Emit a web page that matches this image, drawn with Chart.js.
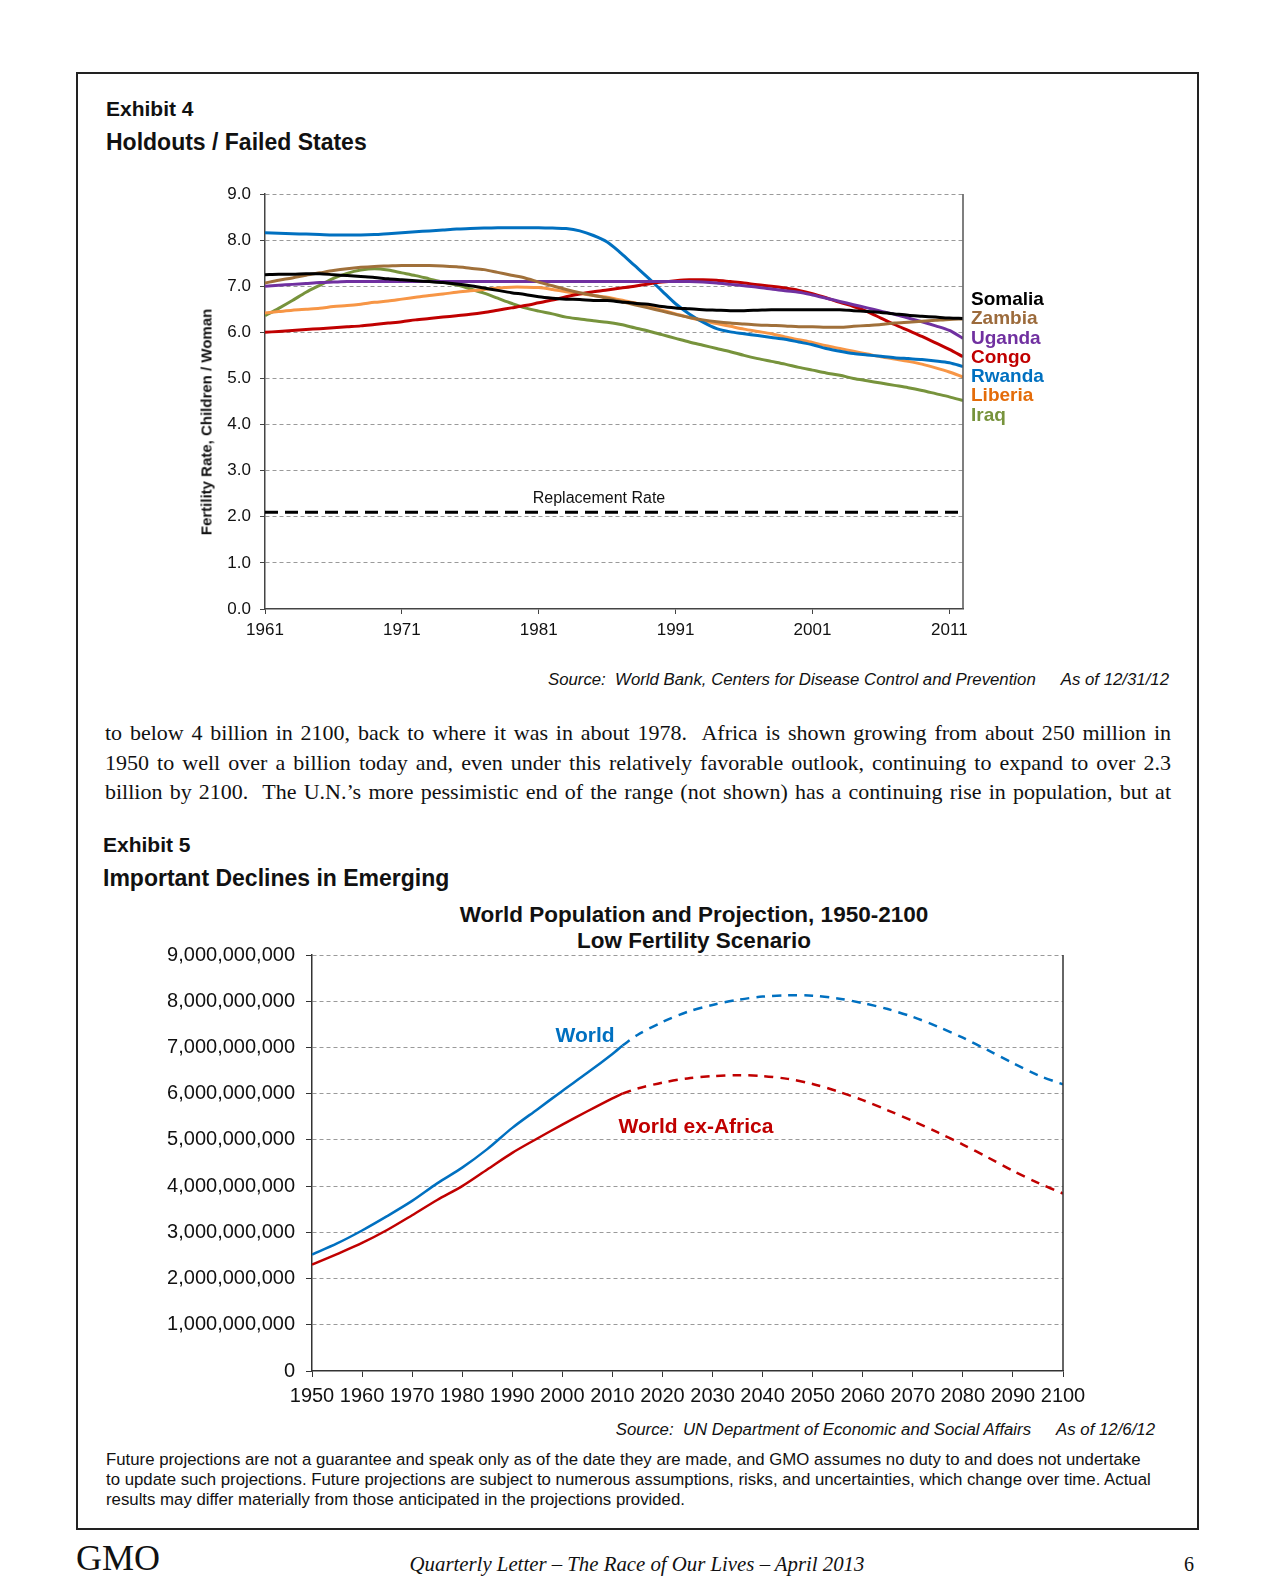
<!DOCTYPE html>
<html>
<head>
<meta charset="utf-8">
<title>GMO Quarterly Letter - Exhibits 4 and 5</title>
<script src="https://cdn.jsdelivr.net/npm/chart.js@4.4.0/dist/chart.umd.min.js"></script>
<style>
  body { margin: 0; width: 1275px; height: 1592px; position: relative; overflow: hidden;
         background: #fff; color: #111; font-family: "Liberation Sans", Arial, sans-serif; }
  .abs { position: absolute; white-space: nowrap; line-height: 1; }
  .frame { position: absolute; left: 76px; top: 72px; width: 1123px; height: 1458px;
           border: 2px solid #222; box-sizing: border-box; }
  .exh { font-weight: bold; font-size: 21px; }
  .head { font-weight: bold; font-size: 23px; }
  .legend div { font-weight: bold; font-size: 19px; line-height: 19.3px; }
  .src { font-style: italic; font-size: 16.8px; }
  .src span + span { margin-left: 25px; }
  .body-line { position: absolute; left: 105px; width: 1066px; font-family: "Liberation Serif", "Times New Roman", serif;
               font-size: 22px; line-height: 29.5px; text-align: justify; text-align-last: justify; white-space: normal; }
  .note { font-size: 16.8px; line-height: 20px; }
  .chartbox { position: absolute; }
  .serif { font-family: "Liberation Serif", "Times New Roman", serif; }
</style>
</head>
<body>
<div class="frame"></div>

<div class="abs exh" style="left:106px; top:98px;">Exhibit 4</div>
<div class="abs head" style="left:106px; top:131px;">Holdouts / Failed States</div>

<div class="chartbox" style="left:190px; top:180px;"><canvas id="fertChart" width="790" height="460"></canvas></div>
<div class="abs" style="left:206px; top:422px; font-weight:bold; font-size:15px; transform:translate(-50%,-50%) rotate(-90deg);">Fertility Rate, Children / Woman</div>
<div class="abs" style="left:599px; top:490px; font-size:16px; transform:translateX(-50%);">Replacement Rate</div>
<div class="abs legend" id="fertLegend" style="left:971px; top:289px;"></div>

<div class="abs src" style="right:106px; top:672px;"><span>Source:&nbsp; World Bank, Centers for Disease Control and Prevention</span><span>As of 12/31/12</span></div>

<div class="body-line" style="top:718px;">to below 4 billion in 2100, back to where it was in about 1978.&nbsp; Africa is shown growing from about 250 million in</div>
<div class="body-line" style="top:747.5px;">1950 to well over a billion today and, even under this relatively favorable outlook, continuing to expand to over 2.3</div>
<div class="body-line" style="top:777px;">billion by 2100.&nbsp; The U.N.’s more pessimistic end of the range (not shown) has a continuing rise in population, but at</div>

<div class="abs exh" style="left:103px; top:834px;">Exhibit 5</div>
<div class="abs head" style="left:103px; top:867px;">Important Declines in Emerging</div>

<div class="abs" style="left:694px; top:904px; font-weight:bold; font-size:22.5px; transform:translateX(-50%);">World Population and Projection, 1950-2100</div>
<div class="abs" style="left:694px; top:930px; font-weight:bold; font-size:22.5px; transform:translateX(-50%);">Low Fertility Scenario</div>

<div class="chartbox" style="left:140px; top:940px;"><canvas id="popChart" width="960" height="480"></canvas></div>
<div class="abs" style="left:585px; top:1024px; font-weight:bold; font-size:21px; color:#0070C0; transform:translateX(-50%);">World</div>
<div class="abs" style="left:696px; top:1115px; font-weight:bold; font-size:21px; color:#C00000; transform:translateX(-50%);">World ex-Africa</div>

<div class="abs src" style="right:120px; top:1422px;"><span>Source:&nbsp; UN Department of Economic and Social Affairs</span><span>As of 12/6/12</span></div>

<div class="abs note" style="left:106px; top:1450px;">Future projections are not a guarantee and speak only as of the date they are made, and GMO assumes no duty to and does not undertake<br>to update such projections. Future projections are subject to numerous assumptions, risks, and uncertainties, which change over time. Actual<br>results may differ materially from those anticipated in the projections provided.</div>

<div class="abs serif" style="left:76px; top:1540px; font-size:36px;">GMO</div>
<div class="abs serif" style="left:637px; top:1554px; font-size:20.8px; font-style:italic; transform:translateX(-50%);">Quarterly Letter – The Race of Our Lives – April 2013</div>
<div class="abs serif" style="left:1184px; top:1554px; font-size:20px;">6</div>

<script>
// --- Exhibit 4: fertility rate, children per woman ---
const fertYears = [1961, 1962, 1963, 1964, 1965, 1966, 1967, 1968, 1969, 1970,
                   1971, 1972, 1973, 1974, 1975, 1976, 1977, 1978, 1979, 1980,
                   1981, 1982, 1983, 1984, 1985, 1986, 1987, 1988, 1989, 1990,
                   1991, 1992, 1993, 1994, 1995, 1996, 1997, 1998, 1999, 2000,
                   2001, 2002, 2003, 2004, 2005, 2006, 2007, 2008, 2009, 2010,
                   2011, 2012];
const fertTicks = [1961, 1971, 1981, 1991, 2001, 2011];
const fertYTicks = [0, 1, 2, 3, 4, 5, 6, 7, 8, 9];

const somalia = [7.25, 7.26, 7.26, 7.27, 7.27, 7.25, 7.23, 7.21, 7.19, 7.16,
                 7.14, 7.12, 7.10, 7.08, 7.05, 7.01, 6.96, 6.91, 6.86, 6.82,
                 6.77, 6.74, 6.72, 6.71, 6.69, 6.69, 6.66, 6.63, 6.61, 6.56,
                 6.53, 6.51, 6.49, 6.48, 6.47, 6.47, 6.48, 6.49, 6.49, 6.49,
                 6.49, 6.49, 6.49, 6.47, 6.45, 6.43, 6.40, 6.37, 6.35, 6.33,
                 6.31, 6.30];
const zambia = [7.07, 7.13, 7.18, 7.24, 7.29, 7.34, 7.38, 7.41, 7.43, 7.44,
                7.45, 7.45, 7.45, 7.44, 7.42, 7.39, 7.36, 7.30, 7.24, 7.18,
                7.09, 7.01, 6.93, 6.86, 6.80, 6.74, 6.67, 6.60, 6.53, 6.46,
                6.39, 6.32, 6.27, 6.23, 6.20, 6.18, 6.16, 6.15, 6.14, 6.12,
                6.12, 6.11, 6.11, 6.13, 6.15, 6.17, 6.20, 6.22, 6.24, 6.26,
                6.28, 6.29];
const uganda = [7.00, 7.02, 7.04, 7.06, 7.08, 7.09, 7.10, 7.10, 7.10, 7.10,
                7.10, 7.10, 7.10, 7.10, 7.10, 7.10, 7.10, 7.10, 7.10, 7.10,
                7.10, 7.10, 7.10, 7.10, 7.10, 7.10, 7.10, 7.10, 7.10, 7.10,
                7.10, 7.10, 7.09, 7.07, 7.04, 7.01, 6.98, 6.94, 6.90, 6.87,
                6.81, 6.74, 6.67, 6.60, 6.53, 6.46, 6.39, 6.31, 6.23, 6.14,
                6.04, 5.87];
const congo = [6.00, 6.02, 6.04, 6.06, 6.08, 6.10, 6.12, 6.14, 6.17, 6.20,
               6.23, 6.27, 6.30, 6.33, 6.36, 6.39, 6.43, 6.48, 6.53, 6.58,
               6.64, 6.70, 6.77, 6.83, 6.88, 6.92, 6.96, 7.00, 7.05, 7.09,
               7.12, 7.14, 7.14, 7.13, 7.10, 7.07, 7.03, 7.00, 6.96, 6.91,
               6.84, 6.75, 6.65, 6.56, 6.45, 6.31, 6.17, 6.04, 5.91, 5.77,
               5.63, 5.47];
const rwanda = [8.16, 8.15, 8.14, 8.13, 8.12, 8.11, 8.11, 8.11, 8.12, 8.14,
                8.16, 8.18, 8.20, 8.22, 8.24, 8.25, 8.26, 8.27, 8.27, 8.27,
                8.27, 8.26, 8.25, 8.20, 8.10, 7.96, 7.72, 7.45, 7.18, 6.90,
                6.62, 6.40, 6.22, 6.08, 6.01, 5.97, 5.93, 5.89, 5.85, 5.79,
                5.73, 5.65, 5.59, 5.54, 5.51, 5.48, 5.45, 5.43, 5.41, 5.38,
                5.34, 5.26];
const liberia = [6.42, 6.45, 6.48, 6.50, 6.52, 6.56, 6.58, 6.61, 6.65, 6.68,
                 6.72, 6.76, 6.80, 6.83, 6.87, 6.90, 6.93, 6.96, 6.98, 6.98,
                 6.97, 6.93, 6.88, 6.84, 6.80, 6.76, 6.70, 6.64, 6.56, 6.48,
                 6.40, 6.32, 6.25, 6.19, 6.13, 6.07, 6.02, 5.97, 5.90, 5.84,
                 5.78, 5.71, 5.65, 5.59, 5.53, 5.47, 5.42, 5.37, 5.31, 5.23,
                 5.14, 5.03];
const iraq = [6.36, 6.52, 6.69, 6.87, 7.02, 7.17, 7.28, 7.35, 7.38, 7.35,
              7.29, 7.23, 7.16, 7.09, 7.03, 6.94, 6.85, 6.74, 6.63, 6.53,
              6.46, 6.40, 6.33, 6.29, 6.25, 6.22, 6.17, 6.10, 6.03, 5.95,
              5.87, 5.79, 5.72, 5.65, 5.58, 5.50, 5.43, 5.37, 5.31, 5.24,
              5.18, 5.12, 5.07, 5.00, 4.95, 4.90, 4.85, 4.80, 4.74, 4.67,
              4.60, 4.52];
const replacementRate = 2.1;

const countries = ['Somalia', 'Zambia', 'Uganda', 'Congo', 'Rwanda', 'Liberia', 'Iraq'];
const countrySeries = [somalia, zambia, uganda, congo, rwanda, liberia, iraq];
const lineColors = ['#000000', '#A0703A', '#7030A0', '#C00000', '#0070C0', '#F79646', '#77933C'];
const labelColors = ['#000000', '#9C6B3C', '#7030A0', '#C00000', '#0070C0', '#E46C0A', '#77933C'];

// --- Exhibit 5: world population, billions ---
const histYears = [1950, 1955, 1960, 1965, 1970, 1975, 1980, 1985, 1990, 1995, 2000, 2005, 2010, 2012];
const worldHist = [2.52, 2.76, 3.04, 3.35, 3.68, 4.06, 4.40, 4.80, 5.26, 5.66, 6.06, 6.45, 6.86, 7.04];
const exAfricaHist = [2.30, 2.53, 2.77, 3.05, 3.37, 3.70, 4.00, 4.36, 4.72, 5.03, 5.33, 5.62, 5.90, 6.00];
const projYears = [2012, 2015, 2020, 2025, 2030, 2035, 2040, 2045, 2050, 2055, 2060,
                   2065, 2070, 2075, 2080, 2085, 2090, 2095, 2100];
const worldProj = [7.04, 7.27, 7.55, 7.77, 7.92, 8.03, 8.10, 8.13, 8.12, 8.06, 7.96,
                   7.83, 7.66, 7.45, 7.21, 6.94, 6.66, 6.40, 6.20];
const exAfricaProj = [6.00, 6.11, 6.24, 6.33, 6.38, 6.40, 6.38, 6.32, 6.21, 6.05, 5.86,
                      5.64, 5.41, 5.16, 4.90, 4.62, 4.33, 4.07, 3.84];

const toPoints = (xs, ys) => ys.map((v, i) => ({ x: xs[i], y: v }));

// trait plein sur le bord droit de la zone de tracé
const plotRightBorder = {
    id: 'plotRightBorder',
    afterDraw(chart, args, opts) {
        const { ctx, chartArea: a } = chart;
        ctx.save();
        ctx.strokeStyle = opts.color || '#444';
        ctx.lineWidth = opts.width || 1.5;
        ctx.beginPath();
        ctx.moveTo(a.right, a.top);
        ctx.lineTo(a.right, a.bottom);
        ctx.stroke();
        ctx.restore();
    }
};

const gridColor = ctx => (ctx.tick && ctx.tick.value === 0) ? 'rgba(0,0,0,0)' : '#9a9a9a';

// fixed axis sizes so the plot area lands where the original has it
const fixY = w => s => { s.width = w; s.paddingTop = 0; s.paddingBottom = 0; };
const fixX = h => s => { s.height = h; s.paddingLeft = 0; s.paddingRight = 0; };

// legend text next to the line ends
const legendBox = document.getElementById('fertLegend');
countries.forEach((name, i) => {
    const d = document.createElement('div');
    d.textContent = name;
    d.style.color = labelColors[i];
    legendBox.appendChild(d);
});

const fertDatasets = countries.map((name, i) => ({
    label: name,
    data: toPoints(fertYears, countrySeries[i]),
    borderColor: lineColors[i],
    borderWidth: 3,
    pointRadius: 0,
    tension: 0.3,
    fill: false
}));
fertDatasets.push({
    label: 'Replacement Rate',
    data: [{ x: fertYears[0], y: replacementRate }, { x: fertYears[fertYears.length - 1], y: replacementRate }],
    borderColor: '#000',
    borderWidth: 3,
    borderDash: [13, 7],
    pointRadius: 0,
    fill: false
});

new Chart(document.getElementById('fertChart'), {
    type: 'line',
    data: { datasets: fertDatasets },
    plugins: [plotRightBorder],
    options: {
        responsive: false,
        animation: false,
        layout: { padding: { top: 14, right: 17, left: 0, bottom: 0 } },
        plugins: {
            legend: { display: false },
            tooltip: { enabled: false },
            plotRightBorder: { color: '#555', width: 1.5 }
        },
        scales: {
            x: {
                type: 'linear',
                min: fertYears[0],
                max: fertYears[fertYears.length - 1],
                afterBuildTicks: s => { s.ticks = fertTicks.map(v => ({ value: v })); },
                afterFit: fixX(31),
                ticks: { callback: v => String(v), color: '#111', font: { family: 'Liberation Sans', size: 17 },
                         padding: 6, maxRotation: 0, autoSkip: false },
                grid: { drawOnChartArea: false, tickLength: 5, color: '#444' },
                border: { color: '#444', width: 1.5 }
            },
            y: {
                min: 0,
                max: 9,
                afterBuildTicks: s => { s.ticks = fertYTicks.map(v => ({ value: v })); },
                afterFit: fixY(75),
                ticks: { callback: v => v.toFixed(1), color: '#111', font: { family: 'Liberation Sans', size: 17 },
                         padding: 9 },
                grid: { color: gridColor, tickColor: '#444', tickLength: 5, lineWidth: 1 },
                border: { color: '#444', width: 1.5, dash: [4, 3] }
            }
        }
    }
});

const popDataset = (label, xs, ys, color, dashed) => ({
    label,
    data: toPoints(xs, ys),
    borderColor: color,
    borderWidth: 2.5,
    borderDash: dashed ? [9, 7] : [],
    pointRadius: 0,
    tension: 0.3,
    fill: false
});

new Chart(document.getElementById('popChart'), {
    type: 'line',
    data: {
        datasets: [
            popDataset('World', histYears, worldHist, '#0070C0', false),
            popDataset('World projection', projYears, worldProj, '#0070C0', true),
            popDataset('World ex-Africa', histYears, exAfricaHist, '#C00000', false),
            popDataset('World ex-Africa projection', projYears, exAfricaProj, '#C00000', true)
        ]
    },
    plugins: [plotRightBorder],
    options: {
        responsive: false,
        animation: false,
        layout: { padding: { top: 15, right: 37, left: 0, bottom: 0 } },
        plugins: {
            legend: { display: false },
            tooltip: { enabled: false },
            plotRightBorder: { color: '#333', width: 1.5 }
        },
        scales: {
            x: {
                type: 'linear',
                min: 1950,
                max: 2100,
                afterFit: fixX(49),
                ticks: { stepSize: 10, callback: v => String(v), color: '#111',
                         font: { family: 'Liberation Sans', size: 20 }, padding: 7, maxRotation: 0, autoSkip: false },
                grid: { drawOnChartArea: false, tickLength: 6, color: '#333' },
                border: { color: '#333', width: 1.5 }
            },
            y: {
                min: 0,
                max: 9,
                afterFit: fixY(172),
                ticks: { stepSize: 1, callback: v => (v * 1e9).toLocaleString('en-US'), color: '#111',
                         font: { family: 'Liberation Sans', size: 20 }, padding: 11 },
                grid: { color: gridColor, tickColor: '#333', tickLength: 6, lineWidth: 1 },
                border: { color: '#333', width: 1.5, dash: [4, 3] }
            }
        }
    }
});
</script>
</body>
</html>
